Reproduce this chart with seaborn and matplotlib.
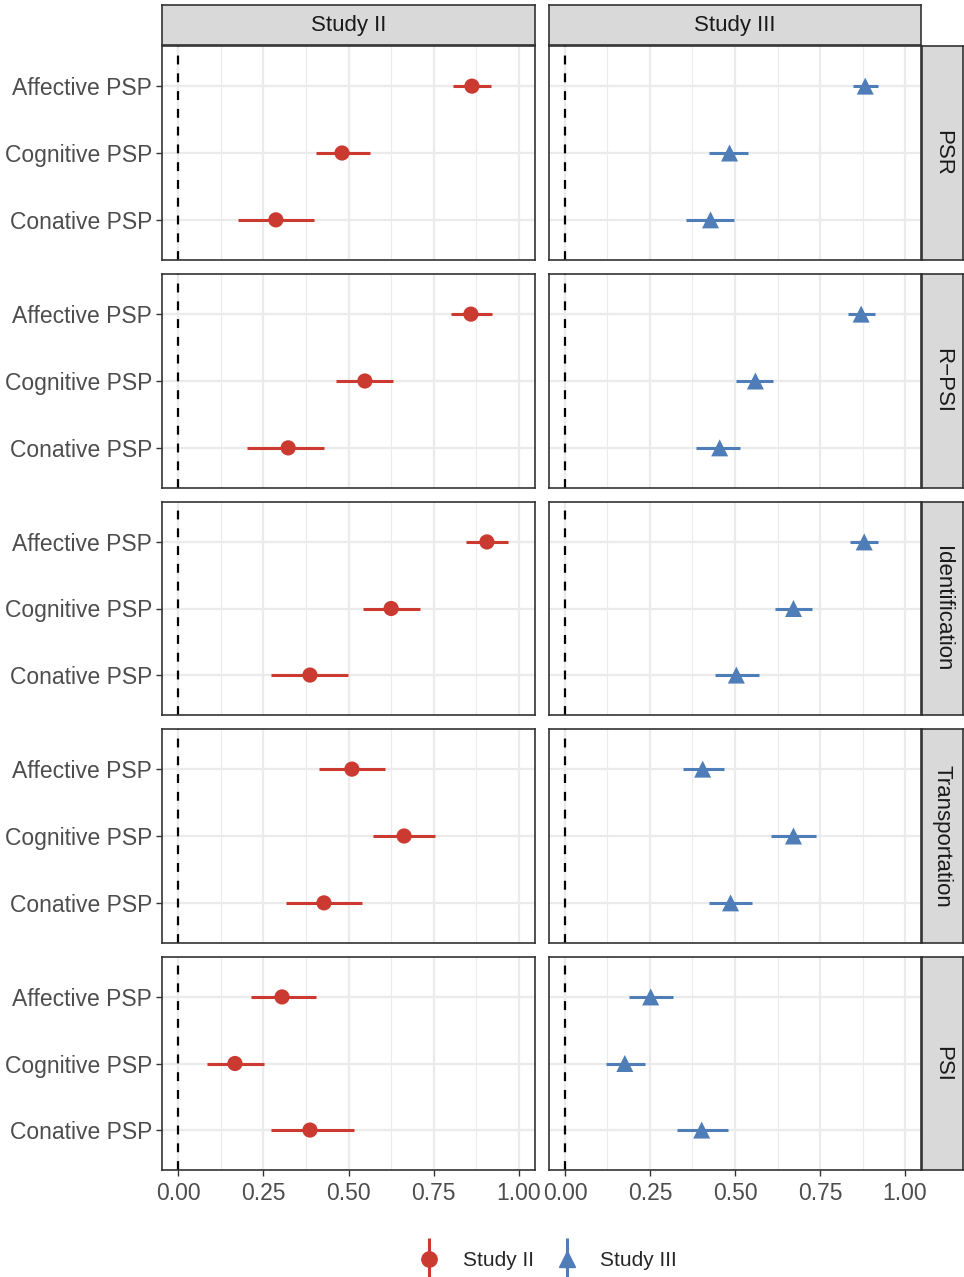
import pandas as pd
import matplotlib
matplotlib.use("Agg")
import matplotlib.pyplot as plt
from matplotlib.lines import Line2D
from matplotlib.legend_handler import HandlerTuple
import seaborn as sns

studies = ["Study II", "Study III"]
measures = ["PSR", "R\u2212PSI", "Identification", "Transportation", "PSI"]
items = ["Affective PSP", "Cognitive PSP", "Conative PSP"]

# estimates and CI bounds, order: measure -> item
est_s2 = [0.862, 0.481, 0.287,
          0.859, 0.548, 0.323,
          0.906, 0.625, 0.387,
          0.510, 0.663, 0.428,
          0.305, 0.167, 0.387]
lo_s2 = [0.806, 0.405, 0.176,
         0.800, 0.463, 0.202,
         0.845, 0.543, 0.273,
         0.413, 0.572, 0.317,
         0.214, 0.085, 0.273]
hi_s2 = [0.918, 0.563, 0.399,
         0.920, 0.630, 0.428,
         0.968, 0.710, 0.499,
         0.607, 0.754, 0.540,
         0.405, 0.252, 0.516]

est_s3 = [0.883, 0.484, 0.428,
          0.871, 0.560, 0.455,
          0.880, 0.672, 0.504,
          0.405, 0.672, 0.487,
          0.252, 0.176, 0.402]
lo_s3 = [0.848, 0.425, 0.355,
         0.833, 0.504, 0.384,
         0.839, 0.619, 0.440,
         0.346, 0.607, 0.425,
         0.188, 0.120, 0.328]
hi_s3 = [0.921, 0.537, 0.496,
         0.912, 0.613, 0.516,
         0.921, 0.727, 0.572,
         0.469, 0.739, 0.551,
         0.317, 0.235, 0.478]

rows = []
for s, est, lo, hi in [("Study II", est_s2, lo_s2, hi_s2), ("Study III", est_s3, lo_s3, hi_s3)]:
    k = 0
    for m in measures:
        for it in items:
            rows.append(dict(study=s, measure=m, item=it, est=est[k], lo=lo[k], hi=hi[k]))
            k += 1
df = pd.DataFrame(rows)
df["pos"] = df["item"].map({it: i for i, it in enumerate(items)})

colors = {"Study II": "#CB3A30", "Study III": "#4F7DB8"}
markers = {"Study II": "o", "Study III": "^"}
msize = {"Study II": 120, "Study III": 150}

sns.set_theme(style="white")
plt.rcParams["font.family"] = ["Liberation Sans", "DejaVu Sans"]

W, H = 964, 1277
fig = plt.figure(figsize=(W / 100, H / 100), dpi=100)

def fx(px):
    return px / W

def fy(py):
    return 1 - py / H

col_x = [(162, 535), (549, 921)]
row_y = [(46, 260), (274, 488), (502, 715), (729, 943), (957, 1170)]
grey_text = "#4D4D4D"

def strip(rect, label, rot):
    st = fig.add_axes(rect)
    st.set_facecolor("#D9D9D9")
    st.set_xticks([])
    st.set_yticks([])
    for sp in st.spines.values():
        sp.set_color("#333333")
        sp.set_linewidth(1.2)
    st.text(0.5, 0.5, label, ha="center", va="center", fontsize=16, color="#1A1A1A",
            rotation=rot, transform=st.transAxes)

for r, m in enumerate(measures):
    for c, s in enumerate(studies):
        x0, x1 = col_x[c]
        y0, y1 = row_y[r]
        ax = fig.add_axes([fx(x0), fy(y1), fx(x1 - x0), (y1 - y0) / H])
        sub = df[(df.study == s) & (df.measure == m)]
        ax.set_xlim(-0.047, 1.047)
        ax.set_ylim(2.6, -0.6)
        ax.set_xticks([0, 0.25, 0.5, 0.75, 1.0])
        ax.set_xticks([0.125, 0.375, 0.625, 0.875], minor=True)
        ax.set_yticks(range(len(items)))
        ax.grid(True, which="major", color="#EBEBEB", lw=1.6, zorder=0)
        ax.grid(True, which="minor", axis="x", color="#EBEBEB", lw=0.8, zorder=0)
        ax.set_axisbelow(True)
        ax.axvline(0, color="black", ls=(0, (4, 4)), lw=1.6, zorder=1)
        ax.hlines(sub["pos"], sub["lo"], sub["hi"], color=colors[s], lw=2.2, zorder=2)
        sns.scatterplot(data=sub, x="est", y="pos", ax=ax, color=colors[s],
                        marker=markers[s], s=msize[s], edgecolor="none", zorder=3, legend=False)
        ax.set_xlabel("")
        ax.set_ylabel("")
        for sp in ax.spines.values():
            sp.set_color("#333333")
            sp.set_linewidth(1.2)
        show_y = c == 0
        show_x = r == len(measures) - 1
        ax.tick_params(axis="both", which="major", length=4, width=1, color="#333333",
                       labelsize=16.5, labelcolor=grey_text)
        ax.tick_params(axis="y", left=show_y, labelleft=show_y, pad=3)
        ax.tick_params(axis="x", bottom=show_x, labelbottom=show_x, pad=5)
        ax.tick_params(axis="both", which="minor", length=0)
        if show_y:
            ax.set_yticklabels(items)
        if show_x:
            ax.set_xticklabels(["0.00", "0.25", "0.50", "0.75", "1.00"])
        if r == 0:
            strip([fx(x0), fy(45), fx(x1 - x0), 40 / H], s, 0)
        if c == 1:
            strip([fx(922), fy(y1), fx(963 - 922), (y1 - y0) / H], m, -90)

handles = []
for s in studies:
    vline = Line2D([], [], color=colors[s], marker="|", markersize=30, markeredgewidth=2.2, ls="none")
    pt = Line2D([], [], color=colors[s], marker=markers[s], markersize=11, ls="none")
    handles.append((vline, pt))
fig.legend(handles, studies, handler_map={tuple: HandlerTuple(ndivide=1, pad=0)},
           loc="center", bbox_to_anchor=(fx(547), fy(1261)), ncol=2, frameon=False,
           fontsize=15, handlelength=1.2, columnspacing=1.0, handletextpad=1.0)

fig.savefig("out.png", dpi=100)
